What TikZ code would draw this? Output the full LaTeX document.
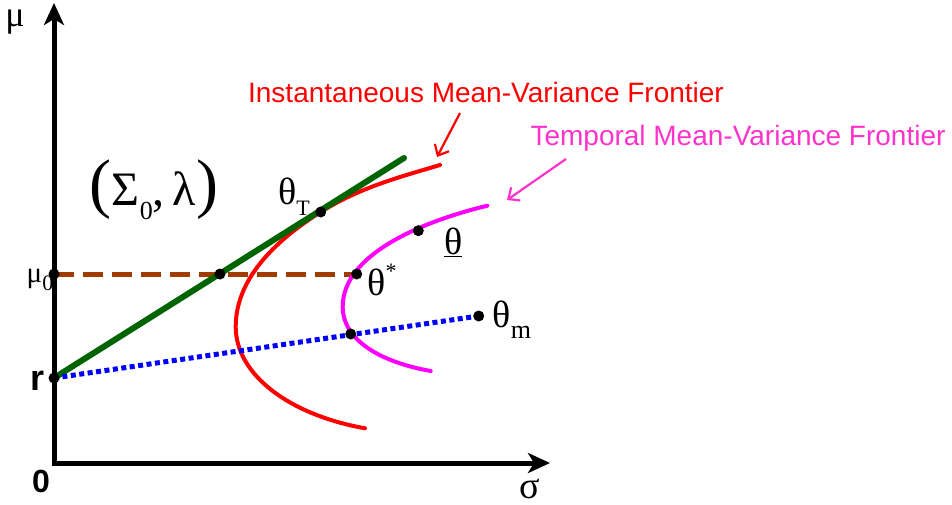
\documentclass[tikz,border=0pt]{standalone}
\usepackage{fontspec}
\setmainfont{Liberation Serif}
\newfontfamily\arialf{Liberation Sans}
\usetikzlibrary{arrows.meta}
\definecolor{frgreen}{RGB}{0,100,0}
\definecolor{frbrown}{RGB}{160,60,0}
\definecolor{frmag}{RGB}{255,0,255}
\definecolor{frmagtxt}{RGB}{255,51,204}
\tikzset{
  ax/.style={line width=5pt, line join=miter, {Stealth[length=22pt,width=20pt,inset=6pt]}-{Stealth[length=22pt,width=20pt,inset=6pt]}},
  dot/.style={circle, fill=black, inner sep=0pt, minimum size=11pt},
  ann/.style={line width=2.2pt, -{Straight Barb[length=9pt,width=16pt,line width=2.2pt]}},
  txt/.style={inner sep=0pt, anchor=center},
  gr/.style={inner sep=0pt, font=\fontsize{38}{38}\selectfont},
  lbl/.style={inner sep=0pt, font=\arialf\fontsize{28}{28}\selectfont}
}
\newcommand{\lowsub}[2]{\raisebox{-0.3em}{\fontsize{#1}{#1}\selectfont #2}}
\begin{document}
\begin{tikzpicture}[x=1pt, y=-1pt]
  \useasboundingbox (0,0) rectangle (952,505);
  \coordinate (O) at (54,463);
  \coordinate (ytip) at (54,3);
  \coordinate (xtip) at (550,463);
  \coordinate (r) at (54,378);
  \coordinate (mu0) at (54,274);
  \coordinate (gEnd) at (404,158);
  \coordinate (gMid) at (220,274);
  \coordinate (thT) at (320.7,212);
  \coordinate (thU) at (418.3,230.7);
  \coordinate (thS) at (356.7,274);
  \coordinate (thX) at (350.7,334);
  \coordinate (thM) at (478.7,316);
  \coordinate (rTop) at (440,165);
  \coordinate (rVtx) at (235.7,326.7);
  \coordinate (rBot) at (365,428.3);
  \coordinate (mTop) at (487.3,205.7);
  \coordinate (mVtx) at (342.7,306.7);
  \coordinate (mBot) at (430.7,371);
  \draw[ax] (ytip) -- (O) -- (xtip);
  \draw[frbrown, line width=5pt, dash pattern=on 20pt off 9pt] (mu0) -- (thS);
  \draw[red, line width=4pt, line cap=round] (rTop) .. controls (400,177) and (360.7,187) .. (thT)
    .. controls (270.7,243.4) and (235.7,281.7) .. (rVtx)
    .. controls (235.7,375) and (290,415) .. (rBot);
  \draw[frmag, line width=4pt, line cap=round] (mTop) .. controls (420,222) and (342.7,255) .. (mVtx)
    .. controls (342.7,340) and (380,362) .. (mBot);
  \draw[frgreen, line width=6pt, line cap=round] (r) -- (gEnd);
  \draw[blue, line width=5pt, dash pattern=on 5pt off 3.5pt] (r) -- (thM);
  \foreach \p in {r,mu0,gMid,thT,thU,thS,thX,thM}
    \node[dot] (d-\p) at (\p) {};
  \node[gr, font=\fontsize{36}{36}\selectfont] (muL) at (15,22) {μ};
  \node[gr] (sigL) at (530,489) {σ};
  \node[txt, font=\arialf\bfseries\fontsize{32}{32}\selectfont] (zeroL) at (41,481) {0};
  \node[txt, font=\arialf\bfseries\fontsize{36}{36}\selectfont] (rL) at (38,381) {r};
  \node[txt, font=\fontsize{29}{29}\selectfont] (mu0L) at (40,280) {μ\lowsub{22}{0}};
  \node[gr] (thTL) at (294,197) {θ\lowsub{22}{T}};
  \node[gr] (thUL) at (453.3,242) {\underline{θ}};
  \node[gr] (thSL) at (382,280) {θ\raisebox{0.45em}{\fontsize{22}{22}\selectfont *}};
  \node[gr] (thML) at (512,320) {θ\lowsub{26}{m}};
  \node[txt, font=\fontsize{48}{48}\selectfont] (setL) at (154,190)
    {{\fontsize{66}{66}\selectfont(}Σ\lowsub{26}{0},\,λ{\fontsize{66}{66}\selectfont)}};
  \node[lbl, red] (instL) at (486,92) {Instantaneous Mean-Variance Frontier};
  \node[lbl, frmagtxt] (tempL) at (738,138) {Temporal Mean-Variance Frontier};
  \coordinate (iA) at (460,113);
  \coordinate (iB) at (437,157);
  \coordinate (tA) at (566,159);
  \coordinate (tB) at (507,200);
  \draw[ann, red] (iA) -- (iB);
  \draw[ann, frmagtxt] (tA) -- (tB);
\end{tikzpicture}
\end{document}
